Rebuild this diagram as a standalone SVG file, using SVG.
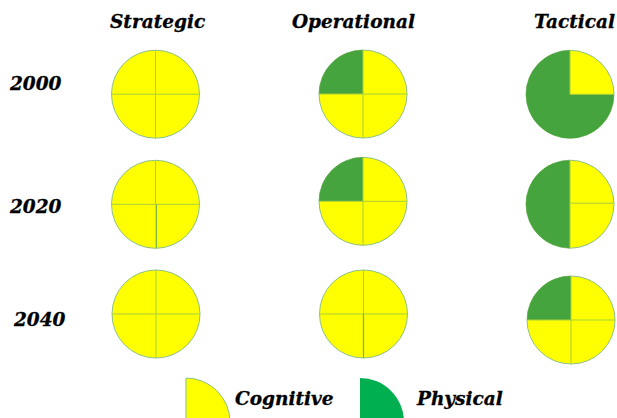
<svg xmlns="http://www.w3.org/2000/svg" width="617" height="418" viewBox="0 0 617 418">
<style>
.lbl{font-family:"DejaVu Serif","Liberation Serif",serif;font-weight:bold;font-style:italic;font-size:18.5px;fill:#000;stroke:#000;stroke-width:0.3}
.disc{fill:#FFFF00;stroke:#8CC08A;stroke-width:1}
.g{fill:#46A43E}
.div{stroke:#A9CF3A;stroke-width:1;fill:none}
.divd{stroke:#79B548;stroke-width:1.3;fill:none}
</style>
<defs>
<circle id="disc" r="44" class="disc"/>
<path id="qtl" class="g" d="M0,0 H-44 A44,44 0 0 1 0,-44 Z"/>
</defs>
<rect width="617" height="418" fill="#fff"/>
<g id="headers">
<text class="lbl" x="110" y="28">Strategic</text>
<text class="lbl" x="292" y="28">Operational</text>
<text class="lbl" x="534" y="28">Tactical</text>
</g>
<g id="years">
<text class="lbl" x="10" y="90">2000</text>
<text class="lbl" x="10" y="213">2020</text>
<text class="lbl" x="14" y="326">2040</text>
</g>
<g id="s2000" transform="translate(155.5,94.2)">
<use href="#disc"/>
<path class="div" d="M-44,0 H44 M0,-44 V44"/>
</g>
<g id="o2000" transform="translate(363,94)">
<use href="#disc"/>
<use href="#qtl"/>
<path class="div" d="M-44,0 H44 M0,-44 V44"/>
</g>
<g id="t2000" transform="translate(570,94.3)">
<use href="#disc"/>
<path class="g" d="M0,0 V-44 A44,44 0 1 0 44,0 Z"/>
<path class="div" d="M0,0 H44 M0,-44 V0"/>
</g>
<g id="s2020" transform="translate(155.5,204.3)">
<use href="#disc"/>
<path class="div" d="M-44,0 H44 M0,-44 V0"/>
<path class="divd" d="M0.8,0 V44"/>
</g>
<g id="o2020" transform="translate(363,201.3)">
<use href="#disc"/>
<use href="#qtl"/>
<path class="div" d="M-44,0 H44 M0,-44 V44"/>
</g>
<g id="t2020" transform="translate(570,204.2)">
<use href="#disc"/>
<path class="g" d="M0,-44 A44,44 0 0 0 0,44 Z"/>
<path class="div" d="M0,-1 H44 M0,-44 V44"/>
</g>
<g id="s2040" transform="translate(156,314)">
<use href="#disc"/>
<path class="div" d="M-44,0 H44 M0,-44 V44"/>
</g>
<g id="o2040" transform="translate(363.5,314)">
<use href="#disc"/>
<path class="div" d="M-44,0 H44 M0,-44 V0"/>
<path class="divd" d="M0,0 V44"/>
</g>
<g id="t2040" transform="translate(571,320)">
<use href="#disc"/>
<use href="#qtl"/>
<path class="div" d="M-44,0 H44 M0,-44 V44"/>
</g>
<g id="legend-cognitive">
<path d="M186,378 A44,44 0 0 1 230,422 H186 Z" fill="#FFFF00" stroke="#8CC08A" stroke-width="1"/>
<text class="lbl" x="235" y="405">Cognitive</text>
</g>
<g id="legend-physical">
<path d="M360,378 A44,44 0 0 1 404,422 H360 Z" fill="#00B050"/>
<text class="lbl" x="417" y="405">Physical</text>
</g>
</svg>
